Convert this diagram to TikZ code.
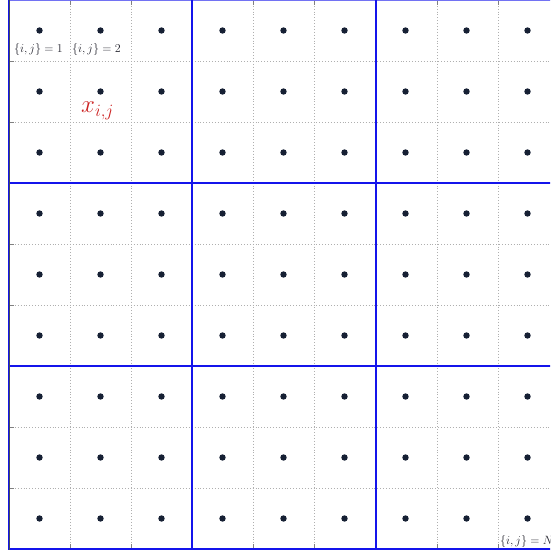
\documentclass[tikz,border=0pt]{standalone}
\usepackage{tikz}
\definecolor{dotc}{RGB}{22,32,52}
\definecolor{gridc}{RGB}{175,175,175}
\definecolor{bluec}{RGB}{20,20,235}
\definecolor{redc}{RGB}{205,35,35}
\definecolor{labc}{RGB}{40,40,50}
\tikzset{
  gridline/.style={draw=gridc, line width=0.9pt, dotted},
  blockline/.style={draw=bluec, line width=2.6pt},
  tickline/.style={draw=gray, line width=0.9pt},
  dotmark/.style={fill=dotc},
  idxlabel/.style={text=labc, font=\fontsize{13}{15}\selectfont, inner sep=0pt, anchor=base west},
  varlabel/.style={text=redc, font=\fontsize{26}{30}\selectfont, inner sep=0pt, anchor=base west}
}
\begin{document}
\begin{tikzpicture}[x=1pt,y=-1pt]
\useasboundingbox (0,0) rectangle (550,556);
\clip (0,0) rectangle (550,556);
\fill[white] (0,0) rectangle (550,556);
% dotted grid
\foreach \v in {70,131,253,314,437,498} {
  \draw[gridline] (\v,0) -- (\v,549);
}
\foreach \v in {61,122,244,305,427,488} {
  \draw[gridline] (9,\v) -- (560,\v);
}
% ticks
\foreach \v in {70,131,253,314,437,498} {
  \draw[tickline] (\v,549) -- (\v,544);
  \draw[tickline] (\v,0) -- (\v,5);
}
\foreach \v in {61,122,244,305,427,488} {
  \draw[tickline] (9,\v) -- (14,\v);
}
% top thin border
\draw[draw=bluec!60, line width=1.2pt] (9,0.6) -- (560,0.6);
% blue block lines
\draw[blockline] (192,0) -- (192,549);
\draw[blockline] (376,0) -- (376,549);
\draw[blockline] (9,183) -- (560,183);
\draw[blockline] (9,366) -- (560,366);
\draw[blockline] (8,549) -- (560,549);
\draw[draw=bluec, line width=2.2pt] (9,0) -- (9,550);
\draw[draw=dotc!80, line width=1pt] (9,0) -- (9,550);
% dots
\foreach \i in {0,...,8} {
  \foreach \j in {0,...,8} {
    \fill[dotmark] ({39.5+61*\i},{30.5+61*\j}) circle (3.2pt);
  }
}
% labels
\node[idxlabel] (l1) at (14,53) {$\{i,j\}=1$};
\node[idxlabel] (l2) at (72,53) {$\{i,j\}=2$};
\node[varlabel] (xij) at (81,113) {$x_{\scriptstyle i,j}$};
\node[idxlabel] (lN) at (500,544) {$\{i,j\}=N$};
\end{tikzpicture}
\end{document}
